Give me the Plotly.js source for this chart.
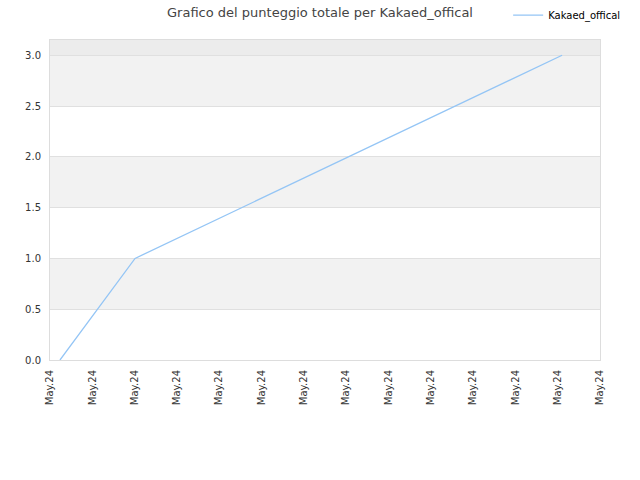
<!DOCTYPE html>
<html>
<head>
<meta charset="utf-8">
<script src="https://cdn.plot.ly/plotly-3.0.1.min.js"></script>
<style>
  body { margin: 0; }
  #graph { width: 640px; height: 480px; }
</style>
</head>
<body>
<div id="graph"></div>
<script>
// Data
const playerName = 'Kakaed_offical';
const dates = ['2024-05-01 05:40', '2024-05-03 00:15', '2024-05-13 02:30'];
const scores = [0, 1, 3];

// axis ticks: one per day, all labelled May.24
const tickDates = ['2024-05-01', '2024-05-02', '2024-05-03', '2024-05-04', '2024-05-05',
    '2024-05-06', '2024-05-07', '2024-05-08', '2024-05-09', '2024-05-10',
    '2024-05-11', '2024-05-12', '2024-05-13', '2024-05-14'];
const tickLabels = tickDates.map(() => 'May.24');

// alternating grey bands behind the plot
const bands = [[0.5, 1.0], [1.5, 2.0], [2.5, 3.0]];

const shapes = bands.map(b => ({
    type: 'rect', xref: 'paper', yref: 'y', layer: 'below',
    x0: 0, x1: 1, y0: b[0], y1: b[1],
    fillcolor: '#f2f2f2', line: { width: 0 }
}));
// the strip above 3.0 is a bit darker
shapes.push({
    type: 'rect', xref: 'paper', yref: 'y', layer: 'below',
    x0: 0, x1: 1, y0: 3.0, y1: 3.15,
    fillcolor: '#ececec', line: { width: 0 }
});

const trace = {
    x: dates,
    y: scores,
    mode: 'lines',
    name: playerName,
    line: { color: '#94c5f5', width: 1.3 }
};

const layout = {
    width: 640, height: 480,
    margin: { l: 50, r: 40, t: 40, b: 120, pad: 0, autoexpand: false },
    paper_bgcolor: '#ffffff',
    plot_bgcolor: '#ffffff',
    font: { family: 'DejaVu Sans, sans-serif', size: 10, color: '#333333' },
    title: {
        text: 'Grafico del punteggio totale per ' + playerName,
        font: { family: 'DejaVu Sans, sans-serif', size: 13, color: '#444444' },
        x: 0.5, xanchor: 'center', y: 0.975, yanchor: 'middle'
    },
    showlegend: true,
    legend: {
        x: 0.833, y: 1.078, xanchor: 'left', yanchor: 'middle',
        bgcolor: 'rgba(0,0,0,0)',
        font: { size: 10, color: '#000000' }
    },
    xaxis: {
        type: 'date',
        range: ['2024-05-01', '2024-05-14'],
        tickvals: tickDates,
        ticktext: tickLabels,
        tickangle: -90,
        showgrid: false,
        zeroline: false,
        showline: true, mirror: true, linecolor: '#dddddd', linewidth: 1,
        ticks: '',
        ticklabelstandoff: 5,
        tickfont: { size: 10, color: '#333333' }
    },
    yaxis: {
        range: [0, 3.15],
        tickvals: [0, 0.5, 1, 1.5, 2, 2.5, 3],
        tickformat: '.1f',
        showgrid: true, gridcolor: '#e0e0e0', gridwidth: 1,
        zeroline: false,
        showline: true, mirror: true, linecolor: '#dddddd', linewidth: 1,
        ticks: '',
        ticklabelstandoff: 6,
        tickfont: { size: 10, color: '#333333' }
    },
    shapes: shapes
};

Plotly.newPlot('graph', [trace], layout, { displayModeBar: false, staticPlot: true });
</script>
</body>
</html>
